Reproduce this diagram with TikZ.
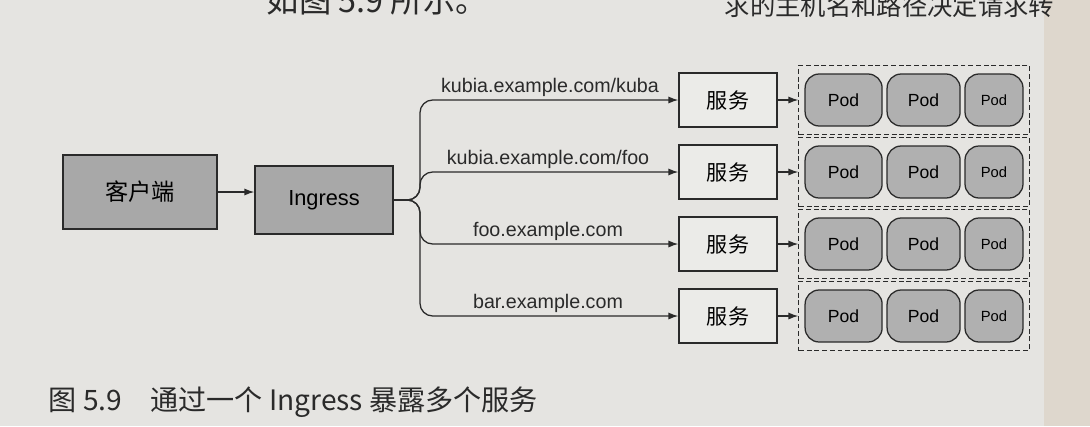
\documentclass[tikz,border=0pt]{standalone}
\usepackage{fontspec}
\setmainfont{Liberation Sans}
\newfontfamily\cjk{Noto Sans CJK SC}
\usepackage{tikz}
\usetikzlibrary{arrows.meta, positioning, calc, fit}
\definecolor{paper}{RGB}{229,228,225}
\definecolor{spine}{RGB}{222,215,205}
\definecolor{ink}{RGB}{42,42,42}
\definecolor{boxgray}{RGB}{168,168,168}
\definecolor{podgray}{RGB}{176,176,176}
\tikzset{
  graybox/.style={rectangle, draw=ink, fill=boxgray, line width=1pt,
    minimum width=3.45cm, minimum height=1.7cm},
  svcbox/.style={rectangle, draw=ink, fill=paper!75!white, line width=1pt,
    minimum width=2.45cm, minimum height=1.35cm,
    font=\cjk\fontsize{15}{18}\selectfont},
  podbox/.style={rectangle, draw=ink, fill=podgray, rounded corners=10pt,
    line width=0.9pt, minimum height=1.3cm, font=\fontsize{12.5}{14}\selectfont},
  podgroup/.style={rectangle, draw=ink, dash pattern=on 3.5pt off 2pt,
    line width=0.8pt, inner xsep=0.14cm, inner ysep=0.2cm},
  urllabel/.style={font=\fontsize{14}{16}\selectfont, anchor=south,
    inner sep=1pt, color=ink},
  arrow/.style={-{Latex[length=7pt,width=5pt]}, line width=0.9pt, color=ink},
  branch/.style={arrow, rounded corners=9pt}
}

\begin{document}
\begin{tikzpicture}
  % page
  \fill[paper] (0,0) rectangle (27.25,-10.65);
  \fill[spine] (26.1,0) rectangle (27.25,-10.65);
  \useasboundingbox (0,0) rectangle (27.25,-10.65);

  % body text above the figure, cut by the page edge
  \node[font=\cjk\fontsize{23}{26}\selectfont, anchor=base west, color=ink]
    (textleft) at (6.55,-0.3) {如图 5.9 所示。};
  \node[font=\cjk\fontsize{18}{20}\selectfont, anchor=base west, color=ink]
    (textright) at (18.0,-0.38) {求的主机名和路径决定请求转};

  % client and ingress
  \node[graybox, minimum width=3.85cm, minimum height=1.85cm,
    font=\cjk\fontsize{16.5}{20}\selectfont] (client) at (3.5,-4.8) {客户端};
  \node[graybox, font=\fontsize{15.5}{18}\selectfont] (ingress) at (8.1,-5.0) {Ingress};
  \draw[arrow] (client.east) -- (client.east -| ingress.west);
  \coordinate (fork) at (10.5,-5.0);

  % services and pods
  \foreach \i/\y in {1/-2.5, 2/-4.3, 3/-6.1, 4/-7.9} {
    \node[svcbox] (svc\i) at (18.2,\y) {服务};
    \node[podbox, minimum width=1.925cm] (pod\i a) at (21.09,\y) {Pod};
    \node[podbox, minimum width=1.825cm] (pod\i b) at (23.09,\y) {Pod};
    \node[podbox, minimum width=1.45cm, font=\fontsize{10.5}{12}\selectfont]
      (pod\i c) at (24.85,\y) {Pod};
    \node[podgroup, fit=(pod\i a)(pod\i c)] (group\i) {};
    \draw[arrow] (svc\i.east) -- (svc\i.east -| group\i.west);
    \draw[branch] (ingress.east) -- (fork) -- (fork |- svc\i.west) -- (svc\i.west);
  }

  % host and path rules
  \node[urllabel] (url1) at (13.75,-2.45) {kubia.example.com/kuba};
  \node[urllabel] (url2) at (13.7,-4.25) {kubia.example.com/foo};
  \node[urllabel] (url3) at (13.7,-6.05) {foo.example.com};
  \node[urllabel] (url4) at (13.7,-7.85) {bar.example.com};

  % caption
  \node[anchor=west, font=\cjk\fontsize{20}{24}\selectfont, color=ink]
    (caption) at (1.1,-10.05) {图 5.9\quad 通过一个 Ingress 暴露多个服务};
\end{tikzpicture}
\end{document}
